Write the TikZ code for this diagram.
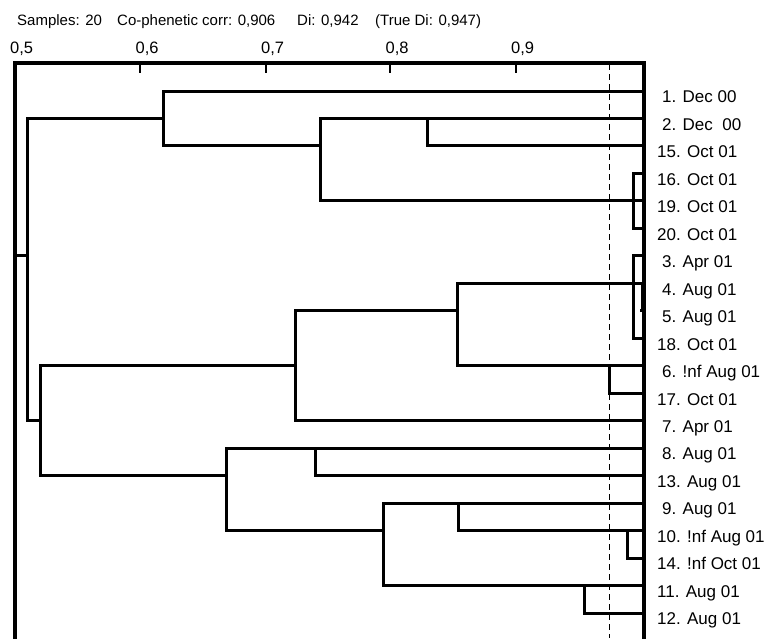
\documentclass[tikz,border=0pt]{standalone}
\usepackage{fontspec}
\setmainfont{Liberation Sans}
\begin{document}
\begin{tikzpicture}[x=1pt,y=-1pt,
  dend/.style={line width=3pt,line cap=rect},
  frameline/.style={line width=3.2pt},
  tickmark/.style={line width=2pt},
  cutline/.style={line width=1.8pt,dash pattern=on 6pt off 4pt},
  leaflabel/.style={anchor=base west,inner sep=0pt,font=\fontsize{17}{17}\selectfont},
  ticklabel/.style={anchor=base west,inner sep=0pt,font=\fontsize{16.5}{16.5}\selectfont},
  headlabel/.style={anchor=base west,inner sep=0pt,font=\fontsize{15}{15}\selectfont}]
\useasboundingbox (0,0) rectangle (766,638);
% leaf levels
\def\ya{91.0}\def\yb{118.5}\def\yc{145.9}\def\yd{173.4}\def\ye{200.9}
\def\yf{228.4}\def\yg{255.8}\def\yh{283.3}\def\yi{310.8}\def\yj{338.2}
\def\yk{365.7}\def\yl{393.2}\def\ym{420.6}\def\yn{448.1}\def\yo{475.6}
\def\yp{503.1}\def\yq{530.5}\def\yr{558.0}\def\ys{585.5}\def\yt{613.0}
% header
\node[headlabel] (h1) at (17,25.7) {Samples: 20};
\node[headlabel] (h2) at (117,25.7) {Co-phenetic corr: 0,906};
\node[headlabel] (h3) at (297,25.7) {Di: 0,942};
\node[headlabel] (h4) at (375,25.7) {(True Di: 0,947)};
% axis labels
\node[ticklabel] (t5) at (10,53) {0,5};
\node[ticklabel] (t6) at (135.5,53) {0,6};
\node[ticklabel] (t7) at (261,53) {0,7};
\node[ticklabel] (t8) at (385.5,53) {0,8};
\node[ticklabel] (t9) at (511,53) {0,9};
% frame and ticks
\draw[frameline] (15,640) -- (15,63) -- (644,63) -- (644,640);
\foreach \tx in {140,266,390,516} \draw[tickmark] (\tx,63) -- (\tx,73);
% cut line
\draw[cutline] (609.5,64) -- (609.5,638);
% leaf horizontals
\draw[dend] (163,\ya) -- (644,\ya);
\draw[dend] (320,\yb) -- (644,\yb);
\draw[dend] (427,\yc) -- (644,\yc);
\draw[dend] (633,\yd) -- (644,\yd);
\draw[dend] (320,\ye) -- (644,\ye);
\draw[dend] (633,\yf) -- (644,\yf);
\draw[dend] (633,\yg) -- (644,\yg);
\draw[dend] (457,\yh) -- (644,\yh);
\draw[dend] (641.5,\yi) -- (644,\yi);
\draw[dend] (633,\yj) -- (644,\yj);
\draw[dend] (457,\yk) -- (644,\yk);
\draw[dend] (609,\yl) -- (644,\yl);
\draw[dend] (295,\ym) -- (644,\ym);
\draw[dend] (226,\yn) -- (644,\yn);
\draw[dend] (315,\yo) -- (644,\yo);
\draw[dend] (383,\yp) -- (644,\yp);
\draw[dend] (458,\yq) -- (644,\yq);
\draw[dend] (627,\yr) -- (644,\yr);
\draw[dend] (383,\ys) -- (644,\ys);
\draw[dend] (584,\yt) -- (644,\yt);
% verticals
\draw[dend] (27,\yb) -- (27,\ym);
\draw[dend] (163,\ya) -- (163,\yc);
\draw[dend] (320,\yb) -- (320,\ye);
\draw[dend] (427,\yb) -- (427,\yc);
\draw[dend] (633,\yd) -- (633,\yf);
\draw[dend] (633,\yg) -- (633,\yj);
\draw[line width=2pt] (641.5,\yh) -- (641.5,\yi);
\draw[dend] (40,\yk) -- (40,\yo);
\draw[dend] (295,\yi) -- (295,\ym);
\draw[dend] (457,\yh) -- (457,\yk);
\draw[dend] (609,\yk) -- (609,\yl);
\draw[dend] (226,\yn) -- (226,\yq);
\draw[dend] (315,\yn) -- (315,\yo);
\draw[dend] (383,\yp) -- (383,\ys);
\draw[dend] (458,\yp) -- (458,\yq);
\draw[dend] (627,\yq) -- (627,\yr);
\draw[dend] (584,\ys) -- (584,\yt);
% cluster links
\draw[dend] (15,\yg) -- (27,\yg);
\draw[dend] (27,\yb) -- (163,\yb);
\draw[dend] (163,\yc) -- (320,\yc);
\draw[dend] (27,\ym) -- (40,\ym);
\draw[dend] (40,\yk) -- (295,\yk);
\draw[dend] (295,\yi) -- (457,\yi);
\draw[dend] (40,\yo) -- (226,\yo);
\draw[dend] (226,\yq) -- (383,\yq);
% leaf labels
\node[leaflabel] (l1)  at (662,\ya+11.8) {1. Dec 00};
\node[leaflabel] (l2)  at (662,\yb+11.8) {2. Dec\ \ 00};
\node[leaflabel] (l15) at (657,\yc+11.8) {15. Oct 01};
\node[leaflabel] (l16) at (657,\yd+11.8) {16. Oct 01};
\node[leaflabel] (l19) at (657,\ye+11.8) {19. Oct 01};
\node[leaflabel] (l20) at (657,\yf+11.8) {20. Oct 01};
\node[leaflabel] (l3)  at (662,\yg+11.8) {3. Apr 01};
\node[leaflabel] (l4)  at (662,\yh+11.8) {4. Aug 01};
\node[leaflabel] (l5)  at (662,\yi+11.8) {5. Aug 01};
\node[leaflabel] (l18) at (657,\yj+11.8) {18. Oct 01};
\node[leaflabel] (l6)  at (662,\yk+11.8) {6. !nf Aug 01};
\node[leaflabel] (l17) at (657,\yl+11.8) {17. Oct 01};
\node[leaflabel] (l7)  at (662,\ym+11.8) {7. Apr 01};
\node[leaflabel] (l8)  at (662,\yn+11.8) {8. Aug 01};
\node[leaflabel] (l13) at (657,\yo+11.8) {13. Aug 01};
\node[leaflabel] (l9)  at (662,\yp+11.8) {9. Aug 01};
\node[leaflabel] (l10) at (657,\yq+11.8) {10. !nf Aug 01};
\node[leaflabel] (l14) at (657,\yr+11.8) {14. !nf Oct 01};
\node[leaflabel] (l11) at (657,\ys+11.8) {11. Aug 01};
\node[leaflabel] (l12) at (657,\yt+11.8) {12. Aug 01};
\end{tikzpicture}
\end{document}
